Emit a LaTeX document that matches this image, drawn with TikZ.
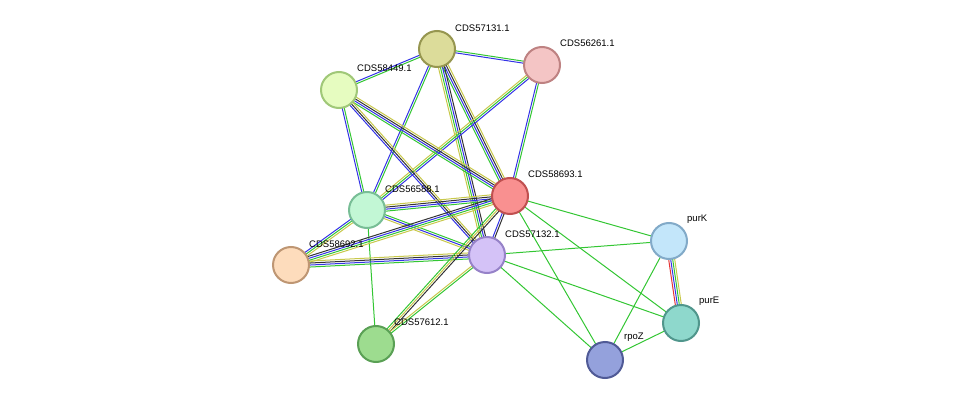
\documentclass[tikz,border=0pt]{standalone}
\usepackage{fontspec}
\setmainfont{Liberation Sans}
\usetikzlibrary{calc}

\definecolor{sgreen}{HTML}{33C633}
\definecolor{sblue}{HTML}{3333E6}
\definecolor{syellow}{HTML}{C8C84A}
\definecolor{sblack}{HTML}{333333}
\definecolor{sred}{HTML}{E63333}

% one coloured strand of an edge, k = offset
\newcommand{\strand}[4]{%
  \draw[#4, line width=1pt] ($(#1)!#3!90:(#2)$) -- ($(#2)!#3!-90:(#1)$);}

\begin{document}
\begin{tikzpicture}[x=1pt, y=-1pt,
    prot/.style={circle, minimum size=36pt, line width=2pt, inner sep=0pt},
    lab/.style={font=\fontsize{9.5}{11}\selectfont, inner sep=1pt, anchor=south west}]
  \useasboundingbox (0,0) rectangle (976,406);
  % positions
  \coordinate (p57131) at (437,49);
  \coordinate (p56261) at (542,65);
  \coordinate (p58449) at (339,90);
  \coordinate (p58693) at (510,196);
  \coordinate (p56588) at (367,210);
  \coordinate (p58692) at (291,265);
  \coordinate (p57132) at (487,255);
  \coordinate (p57612) at (376,344);
  \coordinate (purK) at (669,241);
  \coordinate (purE) at (681,323);
  \coordinate (rpoZ) at (605,360);

  % edges
  \foreach \a/\b/\cols in {
      p57131/p56261/{sblue,sgreen},
      p57131/p58449/{sblue,sgreen},
      p57131/p58693/{sgreen,sblue,sblack,syellow},
      p57131/p57132/{syellow,sgreen,sblue,sblack},
      p57131/p56588/{sblue,sgreen},
      p56261/p58693/{sblue,sgreen},
      p56261/p56588/{syellow,sgreen,sblue},
      p58449/p58693/{sgreen,sblue,sblack,syellow},
      p58449/p57132/{sblue,sblack,syellow},
      p58449/p56588/{sblue,sgreen},
      p56588/p58693/{sgreen,sblue,sblack,syellow},
      p56588/p57132/{syellow,sblue,sgreen},
      p56588/p58692/{sblue,sgreen,syellow},
      p56588/p57612/{sgreen},
      p58692/p58693/{syellow,sgreen,sblue,sblack},
      p58692/p57132/{sgreen,sblue,sblack,syellow},
      p58693/p57132/{sblue,sblack},
      p58693/p57612/{sgreen,syellow,sblack},
      p57132/p57612/{syellow,sgreen},
      p58693/purK/{sgreen},
      p58693/purE/{sgreen},
      p58693/rpoZ/{sgreen},
      p57132/purK/{sgreen},
      p57132/purE/{sgreen},
      p57132/rpoZ/{sgreen},
      purK/purE/{sred,sblue,sgreen,syellow},
      purK/rpoZ/{sgreen},
      purE/rpoZ/{sgreen}} {
    \foreach \d [count=\j] in \cols {\xdef\ncols{\j}}
    \foreach \c [count=\i] in \cols {
      \pgfmathsetmacro{\off}{(\i-(\ncols+1)/2)*2}
      \strand{\a}{\b}{\off pt}{\c}
    }
  }

  % proteins
  \node[prot, fill={rgb,255:red,220;green,220;blue,154}, draw={rgb,255:red,150;green,150;blue,80}] (n57131) at (p57131) {};
  \node[prot, fill={rgb,255:red,244;green,197;blue,197}, draw={rgb,255:red,190;green,130;blue,130}] (n56261) at (p56261) {};
  \node[prot, fill={rgb,255:red,230;green,252;blue,192}, draw={rgb,255:red,160;green,200;blue,120}] (n58449) at (p58449) {};
  \node[prot, fill={rgb,255:red,249;green,144;blue,144}, draw={rgb,255:red,192;green,80;blue,80}] (n58693) at (p58693) {};
  \node[prot, fill={rgb,255:red,194;green,247;blue,213}, draw={rgb,255:red,120;green,190;blue,150}] (n56588) at (p56588) {};
  \node[prot, fill={rgb,255:red,253;green,220;blue,188}, draw={rgb,255:red,190;green,150;blue,115}] (n58692) at (p58692) {};
  \node[prot, fill={rgb,255:red,212;green,194;blue,247}, draw={rgb,255:red,150;green,130;blue,200}] (n57132) at (p57132) {};
  \node[prot, fill={rgb,255:red,157;green,220;blue,143}, draw={rgb,255:red,90;green,160;blue,85}] (n57612) at (p57612) {};
  \node[prot, fill={rgb,255:red,195;green,230;blue,250}, draw={rgb,255:red,130;green,170;blue,200}] (npurK) at (purK) {};
  \node[prot, fill={rgb,255:red,142;green,216;blue,204}, draw={rgb,255:red,80;green,150;blue,140}] (npurE) at (purE) {};
  \node[prot, fill={rgb,255:red,148;green,161;blue,220}, draw={rgb,255:red,80;green,90;blue,150}] (nrpoZ) at (rpoZ) {};

  % labels
  \node[lab] (l57131) at (454,33) {CDS57131.1};
  \node[lab] (l56261) at (559,48) {CDS56261.1};
  \node[lab] (l58449) at (356,73) {CDS58449.1};
  \node[lab] (l58693) at (527,179) {CDS58693.1};
  \node[lab] (l56588) at (384,194) {CDS56588.1};
  \node[lab] (l58692) at (308,249) {CDS58692.1};
  \node[lab] (l57132) at (504,239) {CDS57132.1};
  \node[lab] (l57612) at (393,327) {CDS57612.1};
  \node[lab] (lpurK) at (686,225) {purK};
  \node[lab] (lpurE) at (698,307) {purE};
  \node[lab] (lrpoZ) at (623,343) {rpoZ};
\end{tikzpicture}
\end{document}
